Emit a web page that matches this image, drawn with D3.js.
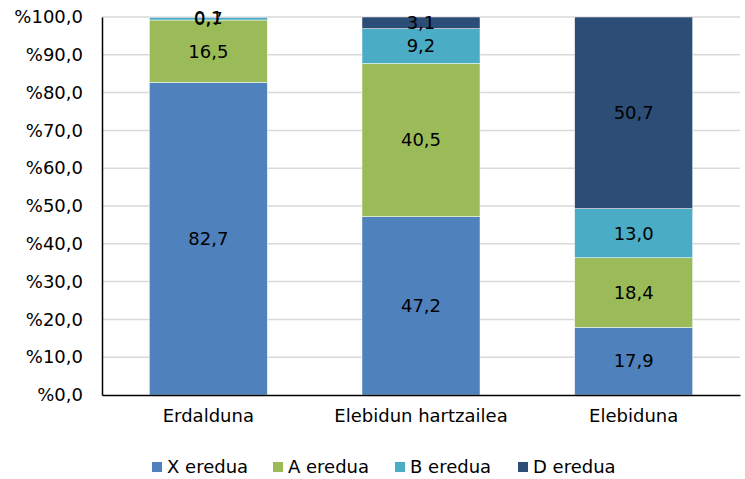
<!DOCTYPE html>
<html>
<head>
<meta charset="utf-8">
<script src="https://cdn.jsdelivr.net/npm/d3@7"></script>
<style>
  body { margin: 0; background: #fff; }
  text { font-family: "DejaVu Sans", Verdana, sans-serif; }
</style>
</head>
<body>
<div id="chart"></div>
<script>
const categories = ['Erdalduna', 'Elebidun hartzailea', 'Elebiduna'];
const seriesNames = ['X eredua', 'A eredua', 'B eredua', 'D eredua'];
const xValues = [82.7, 47.2, 17.9];
const aValues = [16.5, 40.5, 18.4];
const bValues = [0.7, 9.2, 13.0];
const dValues = [0.1, 3.1, 50.7];
const yTicks = [0, 10, 20, 30, 40, 50, 60, 70, 80, 90, 100];
const colors = ['#4F81BD', '#9BBB59', '#4BACC6', '#2C4D75'];

const width = 745, height = 479;
const margin = { top: 17, right: 5, bottom: 84, left: 102 };
const innerW = width - margin.left - margin.right;
const innerH = height - margin.top - margin.bottom;
const fontSize = 18;

const rows = categories.map((c, i) => ({
  cat: c,
  'X eredua': xValues[i],
  'A eredua': aValues[i],
  'B eredua': bValues[i],
  'D eredua': dValues[i]
}));
const stacked = d3.stack().keys(seriesNames)(rows);

const x = d3.scaleBand().domain(categories).range([0, innerW]);
const barW = x.bandwidth() * 0.555;
const y = d3.scaleLinear().domain([0, 100]).range([innerH, 0]);
const fmt = v => '%' + d3.format('.1f')(v).replace('.', ',');

const svg = d3.select('#chart').append('svg')
  .attr('width', width).attr('height', height);
const g = svg.append('g').attr('transform', `translate(${margin.left},${margin.top})`);

// grid lines
g.selectAll('.grid').data(yTicks.filter(t => t > 0)).enter().append('line')
  .attr('x1', 0).attr('x2', innerW)
  .attr('y1', d => y(d)).attr('y2', d => y(d))
  .attr('stroke', '#d9d9d9').attr('stroke-width', 1.5);

// bars
const layers = g.selectAll('.layer').data(stacked).enter().append('g')
  .attr('fill', (d, i) => colors[i]);
layers.selectAll('rect').data(d => d).enter().append('rect')
  .attr('x', d => x(d.data.cat) + (x.bandwidth() - barW) / 2)
  .attr('width', barW)
  .attr('y', d => y(d[1]))
  .attr('height', d => y(d[0]) - y(d[1]))
  .attr('stroke', '#fff').attr('stroke-width', 0.5);

// value labels
layers.selectAll('text').data(d => d.map(p => ({ p, key: d.key }))).enter().append('text')
  .attr('x', d => x(d.p.data.cat) + x.bandwidth() / 2)
  .attr('y', d => y((d.p[0] + d.p[1]) / 2))
  .attr('dy', '0.35em')
  .attr('text-anchor', 'middle')
  .attr('fill', '#000')
  .style('font-size', fontSize + 'px')
  .text(d => (d.p[1] - d.p[0]).toFixed(1).replace('.', ','));

// y axis
const yAxis = g.append('g')
  .call(d3.axisLeft(y).tickValues(yTicks).tickFormat(fmt).tickSize(0).tickPadding(19));
yAxis.select('.domain').attr('stroke', '#000').attr('stroke-width', 1.5);
yAxis.selectAll('text').style('font-size', fontSize + 'px').attr('fill', '#000');

// x axis
const xAxis = g.append('g').attr('transform', `translate(0,${innerH})`)
  .call(d3.axisBottom(x).tickSize(0).tickPadding(14));
xAxis.select('.domain').attr('stroke', '#000').attr('stroke-width', 1.5);
xAxis.selectAll('text').style('font-size', fontSize + 'px').attr('fill', '#000');

// legend
const legendX = [152, 273, 395, 518];
const legend = svg.selectAll('.legend').data(seriesNames).enter().append('g')
  .attr('transform', (d, i) => `translate(${legendX[i]},462)`);
legend.append('rect').attr('width', 10).attr('height', 10)
  .attr('fill', (d, i) => colors[i]);
legend.append('text').attr('x', 15).attr('y', 5).attr('dy', '0.35em')
  .style('font-size', fontSize + 'px').attr('fill', '#000')
  .text(d => d);
</script>
</body>
</html>
